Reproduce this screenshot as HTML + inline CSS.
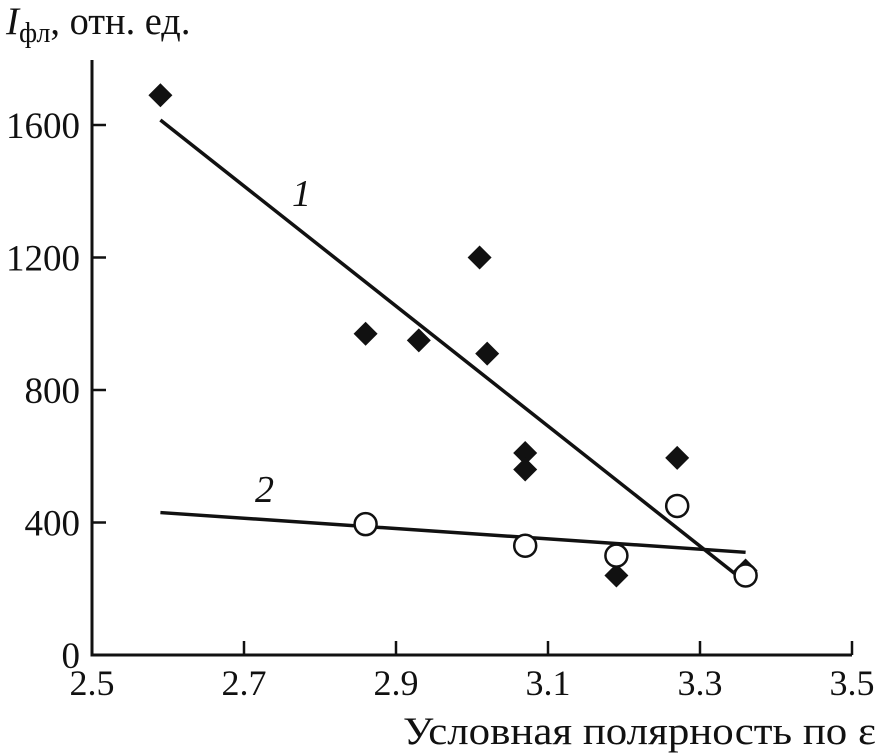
<!DOCTYPE html>
<html><head><meta charset="utf-8"><style>
html,body{margin:0;padding:0;background:#fff;}
svg{display:block;font-family:"Liberation Serif","DejaVu Serif",serif;}
</style></head><body>
<svg width="878" height="755" viewBox="0 0 878 755">
<g id="axes"></g>
<g id="marks"></g>
<text x="6" y="34" font-size="39" fill="#111"><tspan font-style="italic">I</tspan><tspan font-size="28" dy="8">фл</tspan><tspan dy="-8" textLength="140" lengthAdjust="spacingAndGlyphs">, отн. ед.</tspan></text>
<text x="403" y="744" font-size="39" fill="#111" textLength="473" lengthAdjust="spacingAndGlyphs">Условная полярность по ε</text>
<text x="292" y="206" font-size="38" font-style="italic" fill="#111">1</text>
<text x="255" y="502" font-size="38" font-style="italic" fill="#111">2</text>
</svg>
<script>
const xTicks=[2.5,2.7,2.9,3.1,3.3,3.5];
const xTickLabels=["2.5","2.7","2.9","3.1","3.3","3.5"];
const yTicks=[0,400,800,1200,1600];
const yTickLabels=["0","400","800","1200","1600"];
const s1x=[2.59,2.86,2.93,3.01,3.02,3.07,3.07,3.19,3.27,3.36];
const s1y=[1690,970,950,1200,910,610,560,240,595,255];
const s2x=[2.86,3.07,3.19,3.27,3.36];
const s2y=[395,330,300,450,240];
const fit1x=[2.59,3.36], fit1y=[1615,220];
const fit2x=[2.59,3.36], fit2y=[430,310];

const NS="http://www.w3.org/2000/svg";
const X=v=>92+(v-2.5)*760;
const Y=v=>655-v*0.33125;
function mk(tag,attrs,parent){const e=document.createElementNS(NS,tag);for(const k in attrs)e.setAttribute(k,attrs[k]);parent.appendChild(e);return e;}
const ax=document.getElementById('axes'), mg=document.getElementById('marks');
let e=mk('path',{d:`M92,60 V655 H852`,fill:'none',stroke:'#111','stroke-width':3},ax);


xTicks.forEach((t,i)=>{
  let l=mk('line',{x1:X(t),x2:X(t),y1:655,y2:641,stroke:'#111','stroke-width':2.5},ax);
  
  
  let tx=mk('text',{x:X(t),y:695,'font-size':36,'text-anchor':'middle',fill:'#111'},ax);
  tx.textContent=xTickLabels[i];
  
  
});
yTicks.forEach((t,i)=>{
  let l=mk('line',{x1:92,x2:106,y1:Y(t),y2:Y(t),stroke:'#111','stroke-width':2.5},ax);
  
  
  let tx=mk('text',{x:80,y:Y(t)+13,'font-size':37,'text-anchor':'end',fill:'#111'},ax);
  tx.textContent=yTickLabels[i];
  
  
});
let f1=mk('line',{x1:X(fit1x[0]),y1:Y(fit1y[0]),x2:X(fit1x[1]),y2:Y(fit1y[1]),stroke:'#111','stroke-width':3.5},mg);


let f2=mk('line',{x1:X(fit2x[0]),y1:Y(fit2y[0]),x2:X(fit2x[1]),y2:Y(fit2y[1]),stroke:'#111','stroke-width':3.5},mg);


s1x.forEach((v,i)=>{
  const cx=X(v),cy=Y(s1y[i]),r=12;
  let p=mk('path',{d:`M${cx},${cy-r} L${cx+r},${cy} L${cx},${cy+r} L${cx-r},${cy} Z`,fill:'#111'},mg);
  
  
});
s2x.forEach((v,i)=>{
  let c=mk('circle',{cx:X(v),cy:Y(s2y[i]),r:11,fill:'#fff',stroke:'#111','stroke-width':2.5},mg);
  
  
});
</script>
</body></html>
